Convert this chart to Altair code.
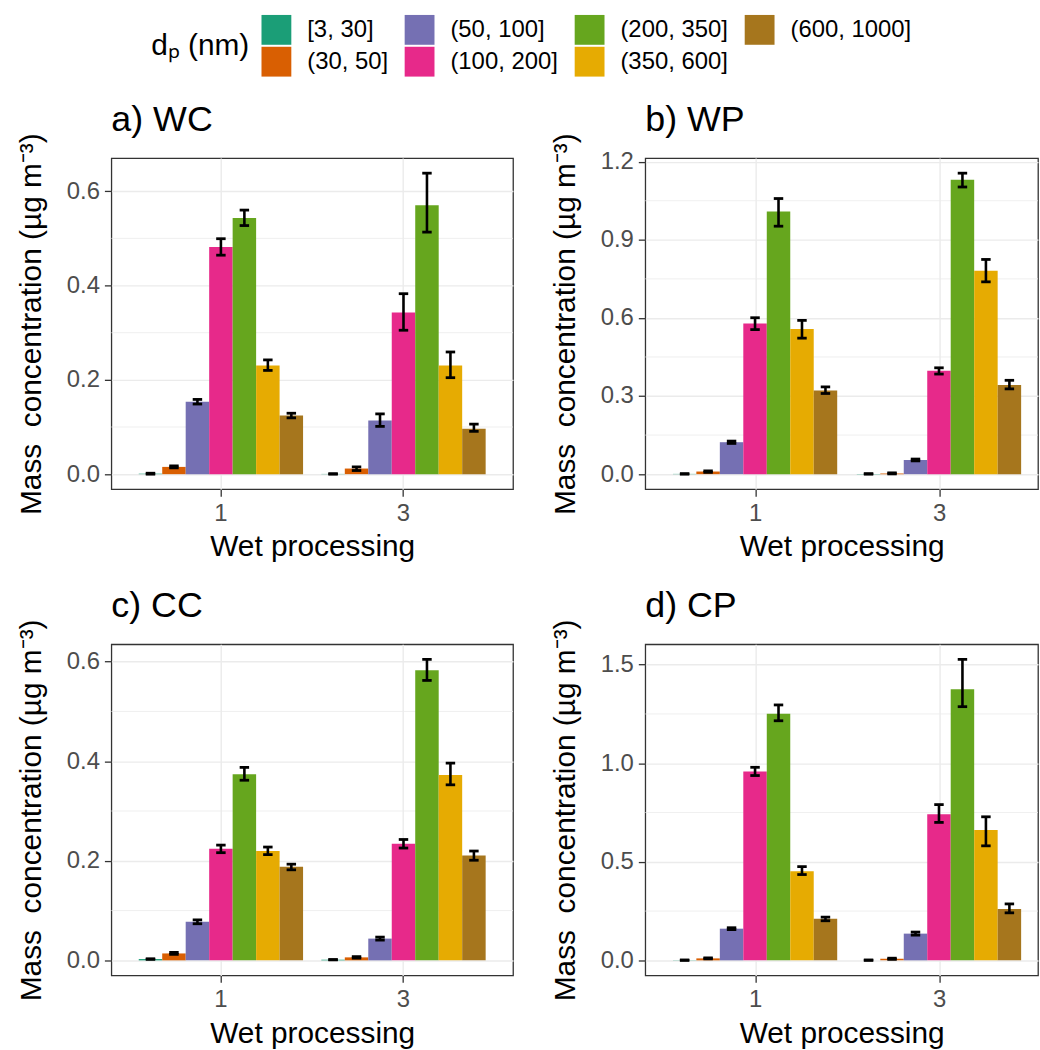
import altair as alt
import pandas as pd

sizes = ["[3, 30]", "(30, 50]", "(50, 100]", "(100, 200]", "(200, 350]", "(350, 600]", "(600, 1000]"]
wet = ["1", "3"]
dark2 = ["#1B9E77", "#D95F02", "#7570B3", "#E7298A", "#66A61E", "#E6AB02", "#A6761D"]

# a) WC
wc_mean_1 = [0.001, 0.0154, 0.1536, 0.482, 0.543, 0.2304, 0.1243]
wc_lo_1 = [0.0, 0.0135, 0.1487, 0.4644, 0.5272, 0.2200, 0.1194]
wc_hi_1 = [0.002, 0.0175, 0.1585, 0.4993, 0.5600, 0.2423, 0.1292]
wc_mean_3 = [0.0005, 0.0119, 0.1138, 0.343, 0.5705, 0.2304, 0.0964]
wc_lo_3 = [0.0, 0.0077, 0.1013, 0.3052, 0.5133, 0.2046, 0.0908]
wc_hi_3 = [0.001, 0.0154, 0.1278, 0.3827, 0.6383, 0.2591, 0.1061]

# b) WP
wp_mean_1 = [0.001, 0.0101, 0.1227, 0.579, 1.009, 0.5577, 0.3212]
wp_lo_1 = [0.0, 0.007, 0.118, 0.5551, 0.9522, 0.5223, 0.3098]
wp_hi_1 = [0.002, 0.013, 0.127, 0.6007, 1.0584, 0.5905, 0.3351]
wp_mean_3 = [0.001, 0.003, 0.0544, 0.397, 1.1305, 0.7815, 0.3427]
wp_lo_3 = [0.0, 0.001, 0.051, 0.3844, 1.1027, 0.7385, 0.3275]
wp_hi_3 = [0.002, 0.005, 0.058, 0.4084, 1.1558, 0.8245, 0.3604]

# c) CC
cc_mean_1 = [0.0026, 0.0139, 0.0774, 0.2243, 0.3738, 0.2196, 0.1879]
cc_lo_1 = [0.002, 0.012, 0.0735, 0.2163, 0.3618, 0.2124, 0.1819]
cc_hi_1 = [0.0032, 0.0158, 0.0813, 0.2315, 0.3876, 0.2276, 0.1932]
cc_mean_3 = [0.0013, 0.006, 0.0437, 0.2342, 0.5828, 0.3724, 0.2104]
cc_lo_3 = [0.001, 0.0045, 0.0407, 0.2256, 0.5623, 0.3526, 0.2011]
cc_hi_3 = [0.0016, 0.0075, 0.0467, 0.2428, 0.6046, 0.3962, 0.2196]

# d) CP
cp_mean_1 = [0.001, 0.010, 0.1607, 0.9577, 1.2506, 0.452, 0.211]
cp_lo_1 = [0.0, 0.007, 0.156, 0.9376, 1.2155, 0.4353, 0.2009]
cp_hi_1 = [0.002, 0.013, 0.1655, 0.9794, 1.2958, 0.4755, 0.2193]
cp_mean_3 = [0.001, 0.008, 0.1356, 0.7417, 1.376, 0.661, 0.261]
cp_lo_3 = [0.0, 0.005, 0.128, 0.6998, 1.287, 0.581, 0.2411]
cp_hi_3 = [0.002, 0.011, 0.1435, 0.7902, 1.527, 0.7283, 0.2863]

# axis breaks
wc_major = [0.0, 0.2, 0.4, 0.6]
wc_minor = [0.1, 0.3, 0.5]
wp_major = [0.0, 0.3, 0.6, 0.9, 1.2]
wp_minor = [0.15, 0.45, 0.75, 1.05]
cc_major = [0.0, 0.2, 0.4, 0.6]
cc_minor = [0.1, 0.3, 0.5]
cp_major = [0.0, 0.5, 1.0, 1.5]
cp_minor = [0.25, 0.75, 1.25]

FONT = "Liberation Sans"
YTITLE = "Mass\u00a0\u00a0concentration (µg m⁻³)"
XTITLE = "Wet processing"

# legend fills column-major in the reference: reorder the colour domain
order = [0, 2, 4, 6, 1, 3, 5]
legend_domain = [sizes[i] for i in order]
legend_range = [dark2[i] for i in order]

legend = alt.Legend(
    title="dₚ (nm)", orient="none", legendX=40, legendY=-144,
    direction="horizontal", columns=4, symbolType="square", symbolSize=900,
    symbolStrokeWidth=0, symbolOpacity=1, labelFont=FONT, labelFontSize=24,
    labelColor="black", titleFont=FONT, titleFontSize=30, titleFontWeight="normal",
    titleColor="black", titleOrient="left", titleAnchor="middle", titleBaseline="middle",
    titlePadding=12, rowPadding=2, columnPadding=16, labelOffset=16,
)


def frame(m1, l1, h1, m3, l3, h3):
    rows = []
    for w, (m, l, h) in zip(wet, [(m1, l1, h1), (m3, l3, h3)]):
        for s, mv, lv, hv in zip(sizes, m, l, h):
            rows.append({"wet": w, "size": s, "mean": mv, "lo": lv, "hi": hv})
    return pd.DataFrame(rows)


def panel(df, title, major, minor, width, xscale):
    top = df["hi"].max()
    yscale = alt.Scale(domain=[-0.05 * top, 1.05 * top], nice=False, zero=False)
    xenc = alt.X("wet:N", scale=xscale, sort=wet,
                 axis=alt.Axis(title=XTITLE, labelAngle=0, bandPosition=0.5, grid=True))
    xoff = alt.XOffset("size:N", sort=sizes,
                       scale=alt.Scale(domain=sizes, paddingInner=0, paddingOuter=0))
    grid = alt.Chart(pd.DataFrame({"v": minor})).mark_rule(
        color="#EBEBEB", strokeWidth=0.8).encode(
        y=alt.Y("v:Q", scale=yscale, title=YTITLE))
    bars = alt.Chart(df).mark_bar().encode(
        x=xenc, xOffset=xoff,
        y=alt.Y("mean:Q", scale=yscale, stack=None, title=YTITLE,
                axis=alt.Axis(values=major, format=".1f")),
        color=alt.Color("size:N", scale=alt.Scale(domain=legend_domain, range=legend_range),
                        legend=legend),
    )
    rule = alt.Chart(df).mark_rule(color="black", strokeWidth=2.6).encode(
        x=xenc, xOffset=xoff,
        y=alt.Y("lo:Q", scale=yscale, title=YTITLE), y2="hi:Q")
    cap_lo = alt.Chart(df).mark_tick(color="black", size=9.5, thickness=2.8, opacity=1).encode(
        x=xenc, xOffset=xoff, y=alt.Y("lo:Q", scale=yscale, title=YTITLE))
    cap_hi = alt.Chart(df).mark_tick(color="black", size=9.5, thickness=2.8, opacity=1).encode(
        x=xenc, xOffset=xoff, y=alt.Y("hi:Q", scale=yscale, title=YTITLE))
    return alt.layer(grid, bars, rule, cap_lo, cap_hi).properties(
        width=width, height=333,
        title=alt.TitleParams(title, anchor="start", frame="group", fontSize=36, font=FONT,
                              fontWeight="normal", baseline="alphabetic", offset=-34,
                              color="black"),
    )


xs_left = alt.Scale(domain=wet, paddingInner=0.1, paddingOuter=0.15)
xs_right = alt.Scale(domain=wet, paddingInner=0.1, paddingOuter=0.1176, align=0.638)

pa = panel(frame(wc_mean_1, wc_lo_1, wc_hi_1, wc_mean_3, wc_lo_3, wc_hi_3), "a) WC", wc_major, wc_minor, 404, xs_left)
pb = panel(frame(wp_mean_1, wp_lo_1, wp_hi_1, wp_mean_3, wp_lo_3, wp_hi_3), "b) WP", wp_major, wp_minor, 395, xs_right)
pc = panel(frame(cc_mean_1, cc_lo_1, cc_hi_1, cc_mean_3, cc_lo_3, cc_hi_3), "c) CC", cc_major, cc_minor, 404, xs_left)
pdd = panel(frame(cp_mean_1, cp_lo_1, cp_hi_1, cp_mean_3, cp_lo_3, cp_hi_3), "d) CP", cp_major, cp_minor, 395, xs_right)

chart = alt.vconcat(
    alt.hconcat(pa, pb, spacing=34),
    alt.hconcat(pc, pdd, spacing=34),
    spacing=24,
).properties(
    padding={"left": 15, "top": 12, "right": 0, "bottom": 0},
    background="white",
).configure_view(
    stroke="#333333", strokeWidth=1.3,
).configure_axis(
    labelFont=FONT, labelFontSize=24, labelColor="#4D4D4D",
    titleFont=FONT, titleFontSize=30, titleFontWeight="normal", titleColor="black",
    tickColor="#333333", tickWidth=1.3, tickSize=7, domain=False,
    gridColor="#EBEBEB", gridWidth=1.4,
).configure_axisX(
    labelPadding=5, titlePadding=7,
).configure_axisY(
    labelPadding=5, titlePadding=20,
)

chart.save("out.html", embed_options={"renderer": "svg", "actions": False})
